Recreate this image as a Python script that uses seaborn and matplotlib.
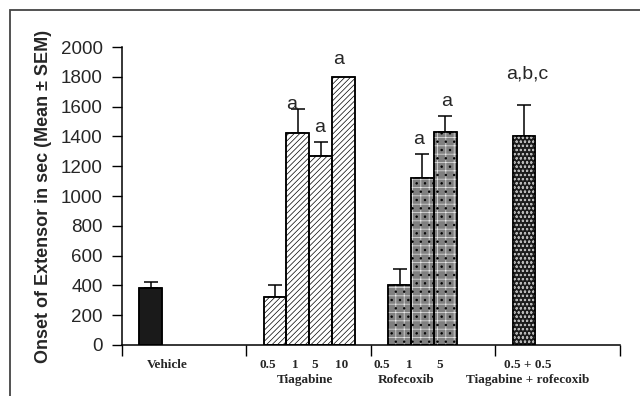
#!/usr/bin/env python3
# plot.py
# Onset of extensor (mean + SEM) for vehicle, tiagabine, rofecoxib and the combination
# Usage: python3 plot.py  -> writes out.png

import numpy as np
import pandas as pd
import matplotlib
matplotlib.use("Agg")
import matplotlib.pyplot as plt
import seaborn as sns
from matplotlib.patches import Rectangle
from matplotlib.transforms import blended_transform_factory

# Data
groups = ["Vehicle", "Tiagabine", "Rofecoxib", "Tiagabine + rofecoxib"]
bar_group = [0, 1, 1, 1, 1, 2, 2, 2, 3]
bar_slot = [0, 0, 1, 2, 3, 0, 1, 2, 0]
dose_text = ["", "0.5", "1", "5", "10", "0.5", "1", "5", "0.5 + 0.5"]
means = [383, 322, 1423, 1268, 1799, 403, 1121, 1430, 1403]
sems = [40, 81, 161, 94, 0, 107, 161, 107, 208]
sig = ["", "", "a", "a", "a", "", "a", "a", "a,b,c"]

# Layout (group units on x, value units on y)
BAR_OFFSET = 0.23
BAR_STEP = 0.183
sig_x = [0, 0, 1.365, 1.59, 1.743, 0, 2.386, 2.61, 3.253]
sig_y = [0, 0, 1617, 1463, 1913, 0, 1376, 1631, 1819]
dose_x = [0, 1.173, 1.39, 1.55, 1.767, 2.088, 2.305, 2.554, 3.257]
group_x = [0.365, 1.474, 2.285, 3.257]

# Styles per group: face, hatch layers (pattern, colour)
face = ["#1a1a1a", "white", "#808080", "#1c1c1c"]
hatch_layers = [
    [],
    [("//////", "black")],
    [("++", "#e8e8e8"), ("..", "black")],
    [("oooo", "#b8b8b8")],
]

sns.set_style("ticks")
plt.rcParams["font.family"] = ["Liberation Sans", "DejaVu Sans"]
plt.rcParams["hatch.linewidth"] = 0.5

pos = [g + BAR_OFFSET + s * BAR_STEP for g, s in zip(bar_group, bar_slot)]
df = pd.DataFrame({"pos": pos, "mean": means})

fig = plt.figure(figsize=(6.4, 3.96), dpi=100)
ax = fig.add_axes([0.1906, 0.1288, 0.778, 0.7525])

sns.barplot(data=df, x="pos", y="mean", native_scale=True, width=1.0,
            errorbar=None, color="white", ax=ax, zorder=2)

width = BAR_STEP
for patch, g in zip(ax.patches, bar_group):
    patch.set_facecolor(face[g])
    patch.set_edgecolor("black")
    patch.set_linewidth(1.1)

# hatch overlays
for p, m, g in zip(pos, means, bar_group):
    for pattern, col in hatch_layers[g]:
        ax.bar(p, m, width=width, fill=False, hatch=pattern,
               edgecolor=col, linewidth=0, zorder=3)
    ax.bar(p, m, width=width, fill=False, edgecolor="black",
           linewidth=1.1, zorder=4)

# upper error bars only
for p, m, e in zip(pos, means, sems):
    if e > 0:
        ax.errorbar(p, m, yerr=[[0], [e]], fmt="none", ecolor="black",
                    elinewidth=1.1, capsize=5, capthick=1.1, zorder=1)

for x, y, s in zip(sig_x, sig_y, sig):
    if s:
        ax.text(x, y, s, ha="center", va="center", fontsize=14)

ax.set_xlim(0, 4)
ax.set_ylim(0, 2000)
ax.set_yticks(np.arange(0, 2001, 200))
ax.set_xticks([0, 1, 2, 3, 4])
ax.set_xticklabels([])
ax.set_xlabel("")
ax.tick_params(axis="y", length=7, width=1, labelsize=13.5, pad=7, color="black")
ax.tick_params(axis="x", length=8, width=1, color="black")
for sp in ["left", "bottom"]:
    ax.spines[sp].set_linewidth(1.1)
    ax.spines[sp].set_color("black")
sns.despine(ax=ax)

ax.set_ylabel("Onset of Extensor in sec (Mean \u00b1 SEM)", fontsize=13,
              fontweight="bold")
ax.yaxis.set_label_coords(-0.14, 0.5)

trans = blended_transform_factory(ax.transData, ax.transAxes)
serif = ["Liberation Serif", "DejaVu Serif"]
for x, t in zip(dose_x, dose_text):
    if t:
        ax.text(x, -0.067, t, transform=trans, ha="center", va="center",
                fontsize=9.5, fontweight="bold", family=serif)
for x, t in zip(group_x, groups):
    y = -0.067 if t == "Vehicle" else -0.117
    ax.text(x, y, t, transform=trans, ha="center", va="center",
            fontsize=9.5, fontweight="bold", family=serif)

# outer frame (only left and top edges fall inside the picture)
fig.add_artist(Rectangle((10 / 640, -1), 5, 1 + (386 / 396), transform=fig.transFigure,
                         fill=False, edgecolor="#444444", linewidth=1.3, clip_on=False))

fig.savefig("out.png", dpi=100)
